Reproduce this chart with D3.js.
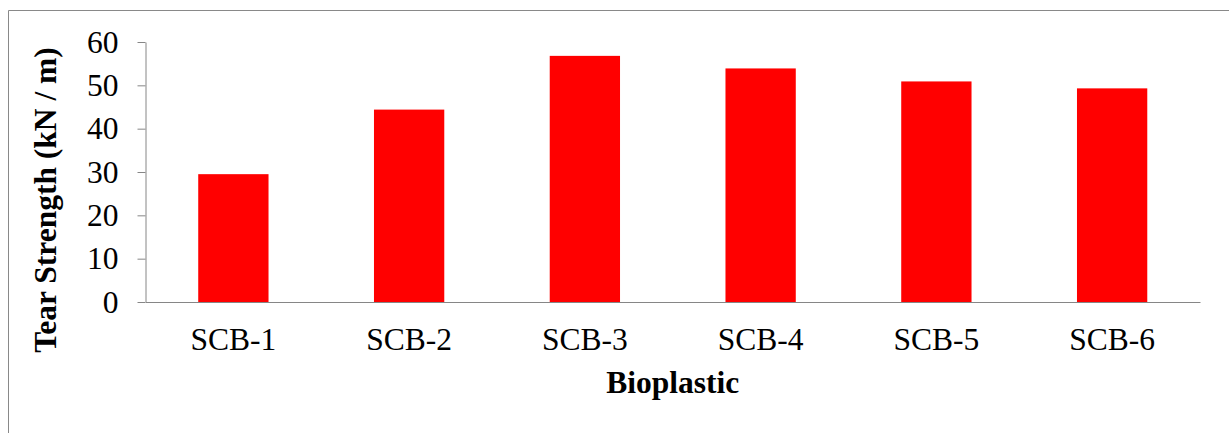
<!DOCTYPE html>
<html>
<head>
<meta charset="utf-8">
<script src="https://cdn.jsdelivr.net/npm/d3@7"></script>
<style>
  body { margin: 0; background: #fff; }
</style>
</head>
<body>
<div id="chart"></div>
<script>
// data
const categories = ['SCB-1', 'SCB-2', 'SCB-3', 'SCB-4', 'SCB-5', 'SCB-6'];
const tearStrength = [29.5, 44.4, 56.8, 53.9, 50.9, 49.3];
const yTicks = [0, 10, 20, 30, 40, 50, 60];

const width = 1229, height = 433;
const margin = {top: 42, right: 29, bottom: 131, left: 145.5};
const axisColor = '#868686';
const font = '"Liberation Serif", "Times New Roman", serif';
const fontSize = 31.5;

const svg = d3.select('#chart')
  .append('svg')
    .attr('width', width)
    .attr('height', height);

// outer frame (clipped at right and bottom like the original)
svg.append('path')
    .attr('d', `M8.5,${height}V10.5H${width}`)
    .attr('fill', 'none')
    .attr('stroke', '#898989')
    .attr('stroke-width', 1);

const x = d3.scaleBand()
    .domain(categories)
    .range([margin.left, width - margin.right])
    .paddingInner(0.6)
    .paddingOuter(0.3);

const y = d3.scaleLinear()
    .domain([0, 60])
    .range([height - margin.bottom, margin.top]);

// bars
svg.append('g')
  .selectAll('rect')
  .data(categories)
  .join('rect')
    .attr('x', d => x(d))
    .attr('y', (d, i) => y(tearStrength[i]))
    .attr('width', x.bandwidth())
    .attr('height', (d, i) => y(0) - y(tearStrength[i]))
    .attr('fill', '#ff0000');

// y axis
const yAxis = svg.append('g')
    .attr('transform', `translate(${margin.left},0)`)
    .call(d3.axisLeft(y).tickValues(yTicks).tickSize(8).tickSizeOuter(0).tickPadding(19));
yAxis.selectAll('line, path').attr('stroke', axisColor);
yAxis.selectAll('text')
    .attr('font-family', font)
    .attr('font-size', fontSize)
    .attr('fill', '#000');

// x axis
const xAxis = svg.append('g')
    .attr('transform', `translate(0,${y(0)})`)
    .call(d3.axisBottom(x).tickSize(0).tickSizeOuter(0).tickPadding(26));
xAxis.select('.domain').attr('stroke', axisColor);
xAxis.selectAll('text')
    .attr('font-family', font)
    .attr('font-size', fontSize)
    .attr('fill', '#000');

// axis titles
svg.append('text')
    .attr('x', (margin.left + width - margin.right) / 2)
    .attr('y', 393)
    .attr('text-anchor', 'middle')
    .attr('font-family', font)
    .attr('font-weight', 'bold')
    .attr('font-size', fontSize)
    .text('Bioplastic');

svg.append('text')
    .attr('transform', 'translate(56,200) rotate(-90)')
    .attr('text-anchor', 'middle')
    .attr('font-family', font)
    .attr('font-weight', 'bold')
    .attr('font-size', fontSize)
    .text('Tear Strength (kN / m)');
</script>
</body>
</html>
